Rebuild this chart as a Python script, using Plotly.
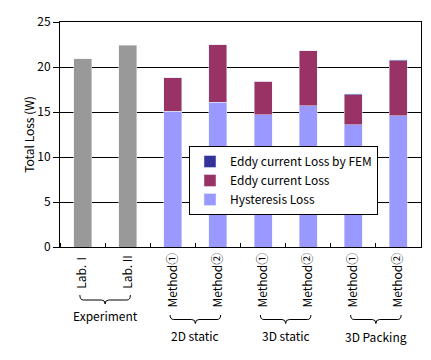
import plotly.graph_objects as go

# ---- data ----
tick_labels = ["Lab.Ⅰ", "Lab.Ⅱ", "Method①", "Method②", "Method①", "Method②", "Method①", "Method②"]
experiment = [20.9, 22.4, None, None, None, None, None, None]
hysteresis = [None, None, 15.1, 16.1, 14.7, 15.7, 13.6, 14.6]
eddy = [None, None, 3.7, 6.4, 3.7, 6.1, 3.3, 6.1]
eddy_fem = [None, None, 0, 0, 0, 0, 0.12, 0.12]
groups = ["Experiment", "2D static", "3D static", "3D Packing"]
group_span = [(0, 1), (2, 3), (4, 5), (6, 7)]

FONT = "Noto Sans CJK JP"
x = list(range(len(tick_labels)))

fig = go.Figure()
fig.add_bar(x=x, y=experiment, marker_color="#999999", width=0.4, showlegend=False, name="Experiment")
fig.add_bar(x=x, y=hysteresis, marker_color="#9999FF", width=0.4, name="Hysteresis Loss")
fig.add_bar(x=x, y=eddy, marker_color="#993366", width=0.4, name="Eddy current Loss")
fig.add_bar(x=x, y=eddy_fem, marker_color="#333399", width=0.4, name="Eddy current Loss by FEM")

# page has an 8px body margin; figure is sized so the plot lands where the reference has it
OFF = 8
W, H = 431 - OFF, 360 - OFF
L, R, T, B = 60 - OFF, 10, 22 - OFF, 113
ph = H - T - B

def py(pix):
    # pix is a page pixel y of the reference
    return (360 - B - pix) / ph

shapes = []
annotations = []
brace_rows = [(295, 300, 304, 315), (315, 319.5, 323.5, 335), (315, 319.5, 323.5, 335), (315, 319.5, 323.5, 336)]
for (a, b), g, (t, m, tip, ly) in zip(group_span, groups, brace_rows):
    x0, x1 = a - 0.06, b + 0.06
    xc = (x0 + x1) / 2
    d = 0.08
    yt, ym, yb = py(t), py(m), py(tip)
    path = (f"M {x0},{yt} Q {x0},{ym} {x0+d},{ym} L {xc-d},{ym} Q {xc},{ym} {xc},{yb} "
            f"Q {xc},{ym} {xc+d},{ym} L {x1-d},{ym} Q {x1},{ym} {x1},{yt}")
    shapes.append(dict(type="path", path=path, xref="x", yref="paper",
                       line=dict(color="black", width=1)))
    annotations.append(dict(x=(a + b) / 2, y=py(ly), xref="x", yref="paper", text=g,
                            showarrow=False, font=dict(family=FONT, size=12, color="black"),
                            xanchor="center", yanchor="middle"))

fig.update_layout(
    width=W, height=H, margin=dict(l=L, r=R, t=T, b=B, autoexpand=False),
    barmode="stack", bargap=0.6,
    paper_bgcolor="white", plot_bgcolor="white",
    font=dict(family=FONT, size=12, color="black"),
    shapes=shapes, annotations=annotations,
    legend=dict(x=(189 - 60) / (W - L - R), y=py(146), xanchor="left", yanchor="top",
                bgcolor="white", bordercolor="black", borderwidth=1,
                traceorder="reversed", font=dict(family=FONT, size=12, color="black"),
                tracegroupgap=0),
    xaxis=dict(range=[-0.5, 7.5], tickvals=x, ticktext=tick_labels, tickangle=-90,
               ticks="", showgrid=False, zeroline=False,
               showline=True, linecolor="black", linewidth=1, mirror=True,
               minor=dict(tick0=0.5, dtick=1, ticks="inside", ticklen=4, tickcolor="black", showgrid=False),
               tickfont=dict(family=FONT, size=12), fixedrange=True),
    yaxis=dict(range=[0, 25], dtick=5, ticks="outside", ticklen=6, tickcolor="black",
               showgrid=True, gridcolor="black", gridwidth=1, zeroline=False,
               showline=True, linecolor="black", linewidth=1, mirror=True,
               title=dict(text="Total Loss (W)", font=dict(family=FONT, size=12), standoff=0),
               tickfont=dict(family=FONT, size=12)),
)

fig.write_html("out.html")
